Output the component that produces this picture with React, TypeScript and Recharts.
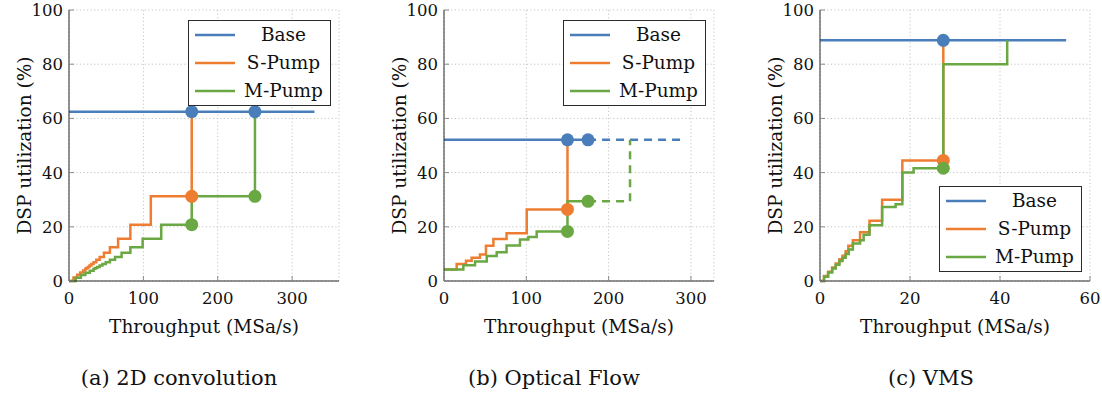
import React from "react";
import { ComposedChart, Line, XAxis, YAxis, CartesianGrid, Legend } from "recharts";

type Pt = [number, number];

const BLUE = "#4a7ebb";
const ORANGE = "#ee7d31";
const GREEN = "#6aa843";
const FRAME = "#2b2b2b";
const TICK = "#8a8a8a";
const SERIF = '"DejaVu Serif", "Liberation Serif", serif';

const yTicks = [0, 20, 40, 60, 80, 100];

// (a) 2D convolution
const convXTicks = [0, 100, 200, 300];
const convBase: Pt[] = [[0, 62.5], [330, 62.5]];
const convSPump: Pt[] = [
  [0, 0], [6, 1.3], [11, 2.3], [15, 3.1], [19, 3.9], [22, 4.5], [23.6, 4.8], [25.4, 5.2],
  [27.5, 5.7], [30, 6.25], [33, 6.9], [36.7, 7.8], [41.2, 8.9], [47, 10.4], [55, 12.5],
  [66, 15.6], [82.5, 20.8], [110, 31.25], [165, 62.5],
];
const convMPump: Pt[] = [
  [0, 0], [9, 1.2], [16, 2.2], [22, 3], [28, 3.8], [33, 4.5], [35.4, 4.8], [38, 5.2],
  [41.2, 5.7], [45, 6.25], [49.5, 6.9], [55, 7.8], [61.9, 8.9], [70.7, 10.4], [82.5, 12.5],
  [99, 15.6], [124, 20.8], [165, 31.25], [250, 62.5],
];
const convBaseMarks: Pt[] = [[165, 62.5], [250, 62.5]];
const convSPumpMarks: Pt[] = [[165, 31.25]];
const convMPumpMarks: Pt[] = [[165, 20.8], [250, 31.25]];

// (b) Optical Flow
const flowXTicks = [0, 100, 200, 300];
const flowBase: Pt[] = [[0, 52.1], [175, 52.1]];
const flowBaseDash: Pt[] = [[175, 52.1], [290, 52.1]];
const flowSPump: Pt[] = [
  [0, 4.2], [15.4, 6.3], [26.7, 7.5], [33.6, 8.6], [43.7, 9.8], [51, 13], [60, 15.5],
  [76, 17.6], [100.5, 26.4], [150, 52.1],
];
const flowMPump: Pt[] = [
  [0, 4.2], [23.5, 5.8], [37.7, 7.2], [51.9, 9.2], [64, 10.6], [76, 13.1], [92.3, 15.3],
  [102.5, 16.2], [112.6, 18.3], [150, 29.4], [175, 29.4],
];
const flowMPumpDash: Pt[] = [[175, 29.4], [226, 52.1]];
const flowBaseMarks: Pt[] = [[150, 52.1], [175, 52.1]];
const flowSPumpMarks: Pt[] = [[150, 26.4]];
const flowMPumpMarks: Pt[] = [[150, 18.3], [175, 29.4]];

// (c) VMS
const vmsXTicks = [0, 20, 40, 60];
const vmsBase: Pt[] = [[0, 88.8], [54.7, 88.8]];
const vmsSPump: Pt[] = [
  [0, 0], [0.9, 1.8], [1.8, 3.4], [2.7, 5], [3.5, 6.5], [4.3, 8], [5, 9.3], [5.7, 11],
  [6.3, 13], [7.3, 15], [8.9, 18], [11, 22.2], [13.8, 30], [18.3, 44.5], [27.4, 88.8],
];
const vmsMPump: Pt[] = [
  [0, 0], [0.9, 1.6], [1.8, 3.1], [2.7, 4.6], [3.5, 6], [4.3, 7.4], [5, 8.6], [5.7, 10],
  [6.4, 11.6], [7.3, 13.8], [8.9, 15], [9.7, 17.1], [11, 20.6], [13.8, 27.3], [16.8, 28.3],
  [18.3, 40], [20.8, 41.6], [27.4, 80], [41.6, 88.8],
];
const vmsBaseMarks: Pt[] = [[27.4, 88.8]];
const vmsSPumpMarks: Pt[] = [[27.4, 44.5]];
const vmsMPumpMarks: Pt[] = [[27.4, 41.6]];

const legendItems = [
  { name: "Base", color: BLUE },
  { name: "S-Pump", color: ORANGE },
  { name: "M-Pump", color: GREEN },
];

const pts = (a: Pt[]) => a.map(([x, y]) => ({ x, y }));

interface LineDef { data: Pt[]; color: string; dashed?: boolean }
interface MarkDef { data: Pt[]; color: string }
interface PanelProps {
  left: number;
  xMax: number;
  xTicks: number[];
  lines: LineDef[];
  marks: MarkDef[];
  legendTop: number;
  caption: string;
  captionCenter: number;
}

const BottomTick = (p: any) => (
  <g>
    <line x1={p.x} x2={p.x} y1={p.y} y2={p.y - 5} stroke={TICK} />
    <text x={p.x} y={p.y + 23} textAnchor="middle" fontSize={16.5} fontFamily={SERIF} fill="#111">
      {p.payload.value}
    </text>
  </g>
);
const TopTick = (p: any) => <line x1={p.x} x2={p.x} y1={p.y} y2={p.y + 5} stroke={TICK} />;
const LeftTick = (p: any) => (
  <g>
    <line x1={p.x} x2={p.x + 5} y1={p.y} y2={p.y} stroke={TICK} />
    <text x={p.x - 6} y={p.y + 6} textAnchor="end" fontSize={16.5} fontFamily={SERIF} fill="#111">
      {p.payload.value}
    </text>
  </g>
);
const RightTick = (p: any) => <line x1={p.x} x2={p.x - 5} y1={p.y} y2={p.y} stroke={TICK} />;

const LegendBox = () => (
  <div
    style={{
      border: `1px solid ${FRAME}`, background: "#fff", width: 143, height: 86,
      boxSizing: "border-box", fontFamily: SERIF, color: "#111",
    }}
  >
    {legendItems.map((it) => (
      <div key={it.name} style={{ display: "flex", alignItems: "center", height: 28 }}>
        <svg width={48} height={10} style={{ display: "block" }}>
          <line x1={6} x2={46} y1={5} y2={5} stroke={it.color} strokeWidth={2.6} />
        </svg>
        <span style={{ flex: 1, textAlign: "center", fontSize: 18.5, lineHeight: "28px" }}>{it.name}</span>
      </div>
    ))}
  </div>
);

const Panel = ({ left, xMax, xTicks, lines, marks, legendTop, caption, captionCenter }: PanelProps) => (
  <>
    <div style={{ position: "absolute", left, top: 0 }}>
      <ComposedChart width={351} height={345} margin={{ top: 10, right: 12, bottom: 0, left: 0 }}>
        <CartesianGrid stroke="#c4c4c4" strokeDasharray="1.2 2.4" />
        <XAxis
          dataKey="x" type="number" domain={[0, xMax]} ticks={xTicks} allowDataOverflow
          height={64} tickSize={0} tickMargin={0} tickLine={false} tick={<BottomTick />}
          axisLine={{ stroke: FRAME }}
          label={{ value: "Throughput (MSa/s)", position: "insideBottom", offset: 12, fontSize: 18.5, fontFamily: SERIF, fill: "#111" }}
        />
        <XAxis
          xAxisId="top" orientation="top" dataKey="x" type="number" domain={[0, xMax]} ticks={xTicks}
          allowDataOverflow height={0} tickSize={0} tickMargin={0} tickLine={false} tick={<TopTick />}
          axisLine={{ stroke: FRAME }}
        />
        <YAxis
          type="number" domain={[0, 100]} ticks={yTicks} width={69} tickSize={0} tickMargin={0}
          tickLine={false} tick={<LeftTick />} axisLine={{ stroke: FRAME }}
          label={{
            value: "DSP utilization (%)", angle: -90, position: "insideLeft", offset: 24,
            fontSize: 18.5, fontFamily: SERIF, fill: "#111", style: { textAnchor: "middle" },
          }}
        />
        <YAxis
          yAxisId="right" orientation="right" type="number" domain={[0, 100]} ticks={yTicks} width={0}
          tickSize={0} tickMargin={0} tickLine={false} tick={<RightTick />} axisLine={{ stroke: FRAME }}
        />
        {lines.map((l, i) => (
          <Line
            key={`l${i}`} data={pts(l.data)} dataKey="y" type="stepAfter" stroke={l.color}
            strokeWidth={2.5} strokeDasharray={l.dashed ? "8 6" : undefined} dot={false}
            activeDot={false} isAnimationActive={false}
          />
        ))}
        {marks.map((m, i) => (
          <Line
            key={`m${i}`} data={pts(m.data)} dataKey="y" stroke="none" strokeWidth={0}
            dot={{ r: 6.5, fill: m.color, stroke: "none" }} activeDot={false} isAnimationActive={false}
          />
        ))}
        <Legend
          layout="vertical" verticalAlign="middle" align="center" content={() => <LegendBox />}
          wrapperStyle={{ left: 188, top: legendTop, width: 143, height: 86 }}
        />
      </ComposedChart>
    </div>
    <div
      style={{
        position: "absolute", left: captionCenter - 150, width: 300, top: 366, textAlign: "center",
        fontFamily: SERIF, fontSize: 21, lineHeight: "25px", color: "#111",
      }}
    >
      {caption}
    </div>
  </>
);

export default function App() {
  return (
    <div style={{ position: "absolute", left: 0, top: 0, width: 1102, height: 396, background: "#fff" }}>
      <Panel
        left={0} xMax={363} xTicks={convXTicks} legendTop={20}
        caption="(a) 2D convolution" captionCenter={179}
        lines={[
          { data: convBase, color: BLUE },
          { data: convSPump, color: ORANGE },
          { data: convMPump, color: GREEN },
        ]}
        marks={[
          { data: convSPumpMarks, color: ORANGE },
          { data: convMPumpMarks, color: GREEN },
          { data: convBaseMarks, color: BLUE },
        ]}
      />
      <Panel
        left={375} xMax={328} xTicks={flowXTicks} legendTop={20}
        caption="(b) Optical Flow" captionCenter={554}
        lines={[
          { data: flowBase, color: BLUE },
          { data: flowBaseDash, color: BLUE, dashed: true },
          { data: flowSPump, color: ORANGE },
          { data: flowMPump, color: GREEN },
          { data: flowMPumpDash, color: GREEN, dashed: true },
        ]}
        marks={[
          { data: flowSPumpMarks, color: ORANGE },
          { data: flowMPumpMarks, color: GREEN },
          { data: flowBaseMarks, color: BLUE },
        ]}
      />
      <Panel
        left={751} xMax={60} xTicks={vmsXTicks} legendTop={186}
        caption="(c) VMS" captionCenter={931}
        lines={[
          { data: vmsBase, color: BLUE },
          { data: vmsSPump, color: ORANGE },
          { data: vmsMPump, color: GREEN },
        ]}
        marks={[
          { data: vmsSPumpMarks, color: ORANGE },
          { data: vmsMPumpMarks, color: GREEN },
          { data: vmsBaseMarks, color: BLUE },
        ]}
      />
    </div>
  );
}
